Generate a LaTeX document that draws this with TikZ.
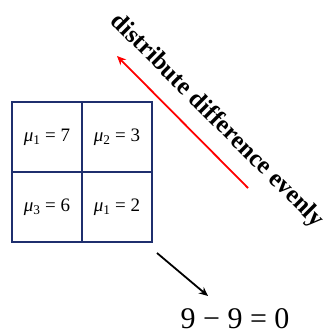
\documentclass[tikz,border=0pt]{standalone}
\usepackage{fontspec}
\setmainfont{Liberation Serif}
\usetikzlibrary{arrows.meta}
\definecolor{navy}{HTML}{1F2F6E}
\begin{document}
\begin{tikzpicture}[x=1pt,y=-1pt,
  cell/.style={draw=navy,line width=1.8pt,minimum width=70pt,minimum height=70pt,inner sep=0pt,font=\fontsize{19}{21}\selectfont},
  arr/.style={line width=1.8pt,-{Stealth[length=9pt,width=8pt]}}]
\useasboundingbox (0,0) rectangle (334,336);
\node[cell] (c11) at (47,137) {\textit{μ}\textsubscript{1} = 7};
\node[cell] (c12) at (117,137) {\textit{μ}\textsubscript{2} = 3};
\node[cell] (c21) at (47,207) {\textit{μ}\textsubscript{3} = 6};
\node[cell] (c22) at (117,207) {\textit{μ}\textsubscript{1} = 2};
\coordinate (rs) at (248,188);
\coordinate (re) at (117,56);
\draw[arr,red] (rs) -- (re);
\node[rotate=-45,font=\bfseries\fontsize{25}{28}\selectfont] (lbl) at (217,121) {distribute difference evenly};
\node[font=\fontsize{30}{33}\selectfont] (eq) at (235,319) {9 − 9 = 0};
\draw[arr,black] (157,253) -- (208,296);
\end{tikzpicture}
\end{document}
